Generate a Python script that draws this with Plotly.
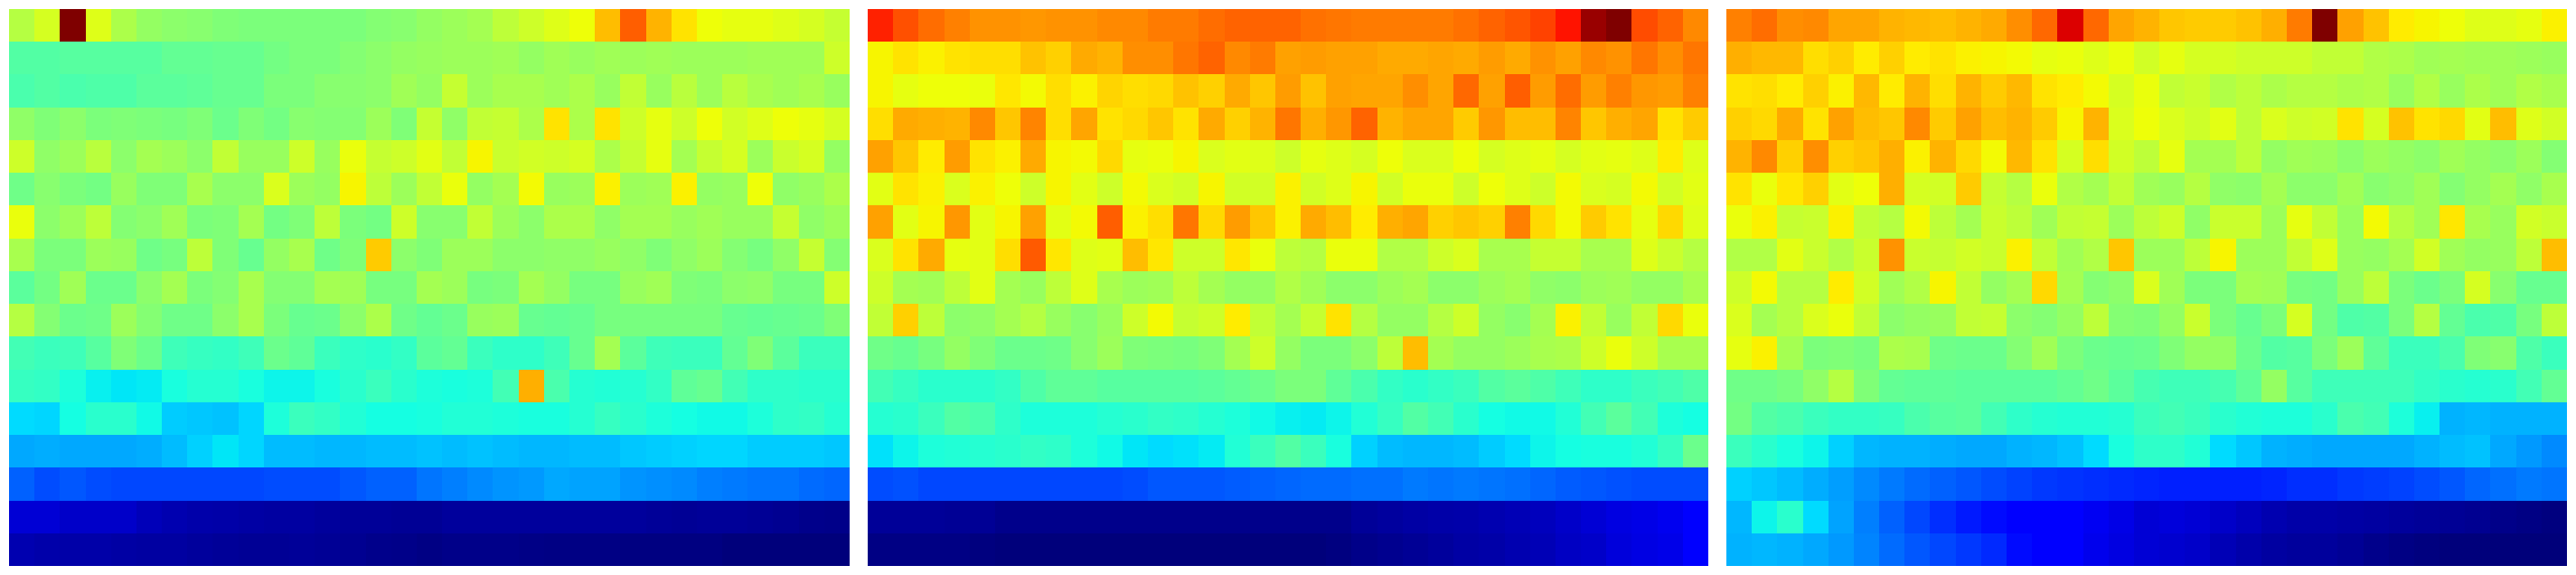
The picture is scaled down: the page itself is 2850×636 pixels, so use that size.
import plotly.graph_objects as go

panel_a = [
[57,61,100,62,56,53,52,51.5,50.5,50,50,50,50,50,51,51.5,53,54,55,58,60,62,64,71,81,72,67,64,63,63,62,61,59],
[45,45,45.5,45.5,45.5,45.5,47,47,47.5,47.5,49,50,50,51,52,53,53.5,54,54,54.5,53,54.5,53.5,54.5,54,54.5,54,54,54,54.5,54.5,54.5,60],
[44,45,44,44.5,44.5,46,46,46.5,47.5,47.5,50,50,51.5,51.5,52,54.5,53,59,54,55.5,55.5,54.5,56,53.5,58.5,53.5,57.5,54,57.5,55.5,54.5,55.5,53.5],
[52.5,50.5,52,50,50.5,50,49.5,50.5,48,50.5,49,51.5,51,51,54,50.5,59,52.5,58.5,59,56,67,56,67,60,63,60,64,60.5,62,64,63,61],
[60,52.5,54,57.5,52,55,54,52,58.5,53.5,53.5,60,53.5,63.5,59,60,62.5,58.5,65,59.5,60.5,60,61,56,59,63,55,59,61,54,59.5,61,53],
[48.5,51.5,50,49,53.5,50.5,50.5,55.5,52,52,61.5,54,53,65,58,54,58.5,63.5,53,55,64.5,53.5,54,65.5,54,54.5,65.5,53,53.5,64,52.5,53.5,56],
[63.5,52,54,58,51,52,54.5,50,50.5,55,49,50.5,58,50,49,60,51.5,51.5,58.5,54,52,56,56,52.5,55,55,53.5,54.5,53.5,53.5,59,52.5,54],
[55.5,50,50,54,53.5,48.5,49.5,58,50.5,47.5,53,55.5,48.5,50.5,69.5,52,50.5,54,54,52,52,52.5,52.5,53.5,52.5,50.5,52.5,54,51,49.5,52.5,59,51],
[46,49,54.5,48,48,52,55,50,51,55.5,51,51,55,54.5,49.5,49.5,55,54,49.5,50,55,53,49.5,49.5,53.5,54.5,50.5,50,52,52.5,49.5,49.5,60],
[57,51,48,48.5,54,51,48.5,48.5,52,55.5,50,47.5,48,52,56,48.5,47,48,53.5,54,47.5,47,47.5,49.5,49.5,49.5,49.5,49.5,47.5,47,47.5,48,50.5],
[43,42,42.5,45.5,50.5,48,42.5,41.5,41,42.5,48,46.5,42,40.5,40,41,46,47,42,40.5,40.5,42.5,47.5,55,46,42.5,42,42,47,50.5,46,42,42],
[41.5,41,38.5,36,35,35.5,38,39.5,39.5,38,36.5,36.5,38,40,42,40,38.5,38,38.5,43,72.5,44,39.5,39,39.5,41,46.5,47.5,43,40.5,40.5,40,40],
[34,33.5,37.5,40,40,37,32.5,32,31.5,33.5,38.5,42,41,39,37.5,37.5,38,39,39,38.5,38,38,39.5,41.5,40,38.5,37.5,37,37,38.5,40.5,41,39.5],
[29,29.5,29,29,29,29.5,31,33,35,33.5,31,31,30.5,30.5,31,31,31.5,31,31.5,31,30.5,30.5,31,31,32,32.5,33,33.5,33.5,32.5,32.5,32.5,32],
[22,20,21,20,19.5,19.5,19.5,19.5,19.5,19.5,20,20,20,21,22,22,24,25,26,27,27.5,29,28.5,28.5,27,26.5,26,25,24.5,24,24,23,22.5],
[7.5,7.5,6.5,6.5,6.5,5.2,4.5,4,3.8,3.5,3.2,3.2,2.8,2.5,2.5,2.2,2.2,2.8,2.8,2.8,2.8,2.8,2.8,2.8,2.8,2.5,2.2,2.5,2.5,2.2,1.9,1.4,1.2],
[4.5,4,3.8,3.8,3.5,3.2,3.2,2.8,2.5,2.2,2.2,2.5,2.2,1.9,1.4,1.2,0.8,1.2,1.2,1.2,1,0.8,0.8,0.8,0.6,0.6,0.6,0.6,0.1,0.1,0.1,0.1,0.1],
]

panel_b = [
[87.5,82.5,79.5,77.5,75.5,75.5,75,75.5,75.5,76.5,76.5,78,78,79.5,80.5,80.5,80.5,79,78.5,78,78,78,78,79,80.5,82,84,89,97.8,100,83,80.5,76.5],
[65,67,65.5,67,67.5,67.5,70.5,69,73,72,76,76,78.5,80.5,76.5,78,74,74.5,74,74,73,73,73.5,73,74.5,73,75.5,74,76.5,75.5,78.5,76,78.5],
[65,63,64,64,63.5,66.5,64.5,67.5,65.5,68.5,67.5,68,70.5,69,73,70,74.5,70.5,74,73.5,73.5,76,73.5,80,74,81,74.5,79.5,74.5,77.5,75,74.5,77.5],
[67.5,73,72.5,72,76.5,70,77,67.5,73.5,67,68,70,67,73,69,72,78.5,72.5,75,80.5,72,73.5,73.5,69.5,75,71,71,77,70,72.5,73.5,67,69.5],
[74,70,66,74.5,67,65.5,73,65,64.5,68,63,63.5,65,61.5,62.5,62,60,63,62,61,64,61.5,61.5,64,61,62,63,61,62.5,63,62,66,62],
[62.5,67,65.5,61.5,65.5,64,60,65,62.5,60,64.5,61.5,60.5,65,60.5,60.5,65.5,60.5,62,65,60.5,63.5,63.5,60,64,62,60,64.5,61.5,61,64.5,60.5,62.5],
[74,62.5,65,75,62.5,65,74,62.5,64.5,81,65.5,67.5,78.5,68,74.5,70,65.5,73,71,66,72.5,73.5,69,70,69,77.5,68,64.5,69.5,67,63,68,62],
[61.5,67,73,63,62.5,67.5,81.5,66.5,62,62.5,71,66.5,60,60,66.5,63.5,58,57,63.5,63.5,56.5,56.5,60,61.5,55.5,55.5,59,59,55.5,55.5,62,59.5,57],
[60,55,54.5,58,62.5,55,53.5,58,62,55.5,54,54.5,58,55,53,53,56.5,54.5,52,52,54,55,52,52,54,55,52.5,52,54,54.5,53,53,55.5],
[58.5,69,58,52,52.5,55,57,53.5,51.5,53.5,60,64.5,59,60,66,58.5,55,59,67,57,53,53,57,60,53,51.5,55,65.5,58.5,53.5,58.5,68,63.5],
[48.5,47.5,49.5,53,50.5,48,48,48.5,51.5,54,50.5,50,49.5,50.5,55,60,53,50,50,52,58,71,55,53,53,54,55.5,56,60,63.5,60,55.5,55.5],
[43,41.5,40,40,40,41,44.5,46.5,46.5,45.5,45.5,45.5,45.5,46,47,48,50,50,46.5,44,41,40,41,42,45,46,44.5,42.5,40.5,40.5,42,43,44.5],
[39.5,40,42,45,44,40.5,38.5,38.5,38.5,39.5,40,41,40.5,39.5,38.5,37,36,35.5,36.5,39,41.5,45,43,40,37.5,37,37,39,43,46,43,38.5,37.5],
[34.5,36.5,38.5,39,39.5,40,41,40.5,38.5,37,35,34,34.5,35.5,39,42,45,42,38,33,31,30.5,30.5,31,32.5,34,36.5,37.5,38,38,39,41.5,48],
[20,20.5,19.5,19.5,19.5,19.5,19.5,19.5,19.5,19.5,20,21,21,21,21.5,22,22.5,23,23,23.5,23.5,24.5,24,24.5,24,23.5,22.5,21.5,21,20.5,20,20,20],
[2.5,2.5,2.5,2.2,2.2,1.4,1.4,1.4,1.4,1.4,1.4,1.4,1.4,1.4,1.4,1.4,1.4,1.4,1.4,2.5,3,3.5,3.8,4,4.5,5,5.5,6.5,7.5,8.5,9,9.8,11],
[0.8,0.8,0.8,0.8,0.4,0.1,0.1,0.1,0.1,0.1,0.1,0.1,0.1,0.1,0.1,0.1,0.1,0.1,0.5,1.2,1.7,2.2,2.8,3.5,3.8,4.5,5,6,6.5,8,8.7,9.2,11],
]

panel_c = [
[77.5,79.5,76,76.5,73.5,73.5,72,71.5,71,72,73,76,80,92,80,73.5,72,70,69.5,69.5,70.5,72.5,78,100,74,70.5,66,65,64,62,62,63,65.5],
[72.5,71.5,71.5,67.5,69,66,69,66,67,65.5,65,64.5,63,63.5,62,63.5,60.5,63,61,61,60,60,60,58.5,58.5,56.5,56,54.5,55,54.5,54.5,54,53.5],
[67,67.5,66,69,65.5,71.5,66,72,67.5,72,69.5,71.5,67,66,64.5,61,63.5,58.5,59.5,56.5,58,56,57,57,56,56.5,53.5,56.5,53.5,56,54.5,56.5,55.5],
[69,68,73,67,74,71,70,76.5,69.5,74,71,72,69.5,65,72,61.5,64,61.5,60,62.5,58,61.5,60,60.5,67,61,70.5,67,68,62.5,71,62,60.5],
[72,76.5,69,76,69,70,72.5,65.5,72,68,64.5,71.5,67,61,67.5,60.5,58,63,55,55,58,53,54.5,54,52,54,53,52,54.5,53,52,54,51],
[67,63.5,66.5,69,62.5,64,72.5,61,60.5,69.5,59,57,63.5,56.5,55,58.5,54.5,53.5,57,52.5,52,55,52,52,54.5,51.5,52.5,54.5,51,53,55,52.5,55.5],
[63.5,65.5,59,59.5,65.5,58.5,57,64.5,58,55,59.5,58,54.5,58.5,59,54,58,60,52.5,59.5,59.5,54,63,58.5,53.5,64.5,57,54.5,66.5,55.5,53.5,60.5,59.5],
[56.5,56.5,62.5,59.5,56.5,59.5,75.5,59.5,59,60.5,59.5,65.5,58.5,54.5,56.5,70,54,54,58,65,54,54,58.5,62,53.5,53,55,60.5,54.5,53,53.5,58,71],
[60,64.5,57,57,66,60.5,54.5,56.5,65,58.5,53,55,68,55,51,52,61.5,54.5,50,50,55,54.5,49.5,49,53.5,58,50,48,50,61,51.5,47.5,47.5],
[61.5,55,57,61.5,63.5,58.5,52,53,53.5,58.5,59,52,51,53,58,51,50.5,53,59.5,50,47.5,50,61,49,44.5,45,50,57,47,44,44.5,49.5,58],
[63,65.5,55,50,50.5,49.5,56,55.5,48.5,48,48,51,54.5,50,48,47.5,48,50.5,53,53,48,45,45.5,50,54,46.5,42,42,44,50.5,51.5,44.5,42],
[48.5,48.5,49.5,52.5,57,50.5,47,46.5,46.5,46,46,46,46,47,48.5,46,43.5,42.5,42.5,43.5,46.5,53,45.5,42.5,42.5,42.5,42.5,41,40,39.5,40,43,47],
[49,45,44,42,41,41,41.5,44,45.5,46,43,40.5,39.5,39,39,39.5,42,43,42,40,39,38.5,38.5,40,44,43,38.5,36,30,30.5,30,30,30],
[42,40,38,36.5,33,30.5,30,30,29.5,29,29,30,30.5,31.5,34,38,40.5,40.5,39,34,32,30,29.5,29,29,29,29,30,31,31.5,29,27.5,26],
[33,32,31,29.5,28,26,24.5,23,22,21,20,19,18,17.5,17,16.5,16,15.5,15.5,15.5,15.5,16,17,17,18,18.5,19,20,21,22.5,23.5,24.5,24],
[30.5,36.5,40,34,28.5,25,22,19.5,17,15,13.5,12,11.5,11,10,9,7.5,8,7.5,6.5,5.5,4.5,3.8,3.8,3.5,3.2,2.8,2.5,2.2,1.9,1.2,0.8,0.4],
[30,30.5,30,29,27.5,25.5,23,21,19.5,18,16.5,13.5,12,11.5,9.5,8.5,7.5,7,6.5,5,4,3.2,2.8,2.8,2.2,1.4,0.8,0.4,0.1,0.1,0,0,0],
]

jet = [
    [0.0, "rgb(0,0,122)"], [0.11, "rgb(0,0,255)"], [0.125, "rgb(0,0,255)"],
    [0.34, "rgb(0,219,255)"], [0.35, "rgb(0,230,247)"], [0.375, "rgb(21,255,226)"],
    [0.64, "rgb(238,255,8)"], [0.65, "rgb(247,245,0)"], [0.66, "rgb(255,236,0)"],
    [0.89, "rgb(255,19,0)"], [0.91, "rgb(232,0,0)"], [1.0, "rgb(127,0,0)"],
]

W, H = 2850, 636
panels = [(panel_a, 10, 940), (panel_b, 960, 1890), (panel_c, 1910, 2840)]

fig = go.Figure()
for i, (values, left, right) in enumerate(panels, start=1):
    suffix = "" if i == 1 else str(i)
    fig.add_trace(go.Heatmap(
        z=values, zmin=0, zmax=100, colorscale=jet, showscale=False, zsmooth=False,
        xaxis="x" + suffix, yaxis="y" + suffix,
    ))
    fig.layout["xaxis" + suffix] = dict(
        domain=[left / W, right / W], range=[-0.5, 32.5], visible=False, anchor="y" + suffix)
    fig.layout["yaxis" + suffix] = dict(
        domain=[1 - 626 / H, 1 - 10 / H], range=[16.5, -0.5], visible=False, anchor="x" + suffix)

fig.update_layout(
    width=W, height=H, autosize=False,
    margin=dict(l=0, r=0, t=0, b=0, pad=0),
    paper_bgcolor="white", plot_bgcolor="white",
)

fig.write_html(
    "out.html",
    config={"displayModeBar": False},
    post_script="document.body.style.margin='0';document.documentElement.style.overflow='hidden';",
)
